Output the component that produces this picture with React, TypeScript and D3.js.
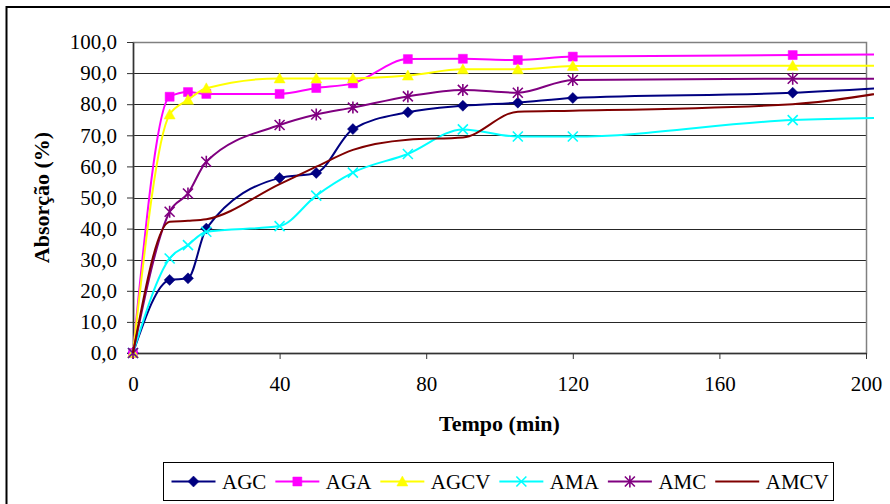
import * as d3 from "d3";
import { useRef, useEffect } from "react";

// values (Absorção % vs Tempo min)
const time = [0, 10, 15, 20, 40, 50, 60, 75, 90, 105, 120, 180, 210];
const agc = [0, 23.5, 24, 40, 56.3, 57.9, 72, 77.4, 79.5, 80.5, 82, 83.7, 85.6];
const aga = [0, 82.4, 83.9, 83.3, 83.3, 85.2, 86.7, 94.5, 94.6, 94.2, 95.3, 95.8, 96];
const agcv = [0, 76.7, 81.4, 85.1, 88.3, 88.3, 88.3, 89.2, 91.2, 91.2, 92.3, 92.4, 92.4];
const ama = [0, 30.4, 34.7, 39, 40.8, 50.6, 58, 64, 71.9, 69.6, 69.6, 74.9, 75.7];
const amc = [0, 45.4, 51.3, 61.5, 73.3, 76.7, 78.9, 82.5, 84.6, 83.7, 87.8, 88.2, 88.2];
const amcv = [0, 42.2, 42.5, 43, 54.3, 59.9, 65.3, 68.6, 69.3, 77.6, 77.9, 80, 84.8];

const seriesNames = ["AGC", "AGA", "AGCV", "AMA", "AMC", "AMCV"];
const seriesValues = [agc, aga, agcv, ama, amc, amcv];
const seriesColors = ["#000080", "#FF00FF", "#FFFF00", "#00FFFF", "#800080", "#800000"];
const seriesMarkers = ["diamond", "square", "triangle", "cross", "star", "none"];

const xTicks = [0, 40, 80, 120, 160, 200];
const yTicks = [0, 10, 20, 30, 40, 50, 60, 70, 80, 90, 100];

const markerPath = (kind: string) => {
  switch (kind) {
    case "diamond":
      return "M0,-5.5L5.5,0L0,5.5L-5.5,0Z";
    case "square":
      return "M-4.5,-4.5H4.5V4.5H-4.5Z";
    case "triangle":
      return "M0,-5.5L5.5,4.5L-5.5,4.5Z";
    case "cross":
      return "M-5,-5L5,5M-5,5L5,-5";
    case "star":
      return "M-5,-5L5,5M-5,5L5,-5M0,-6V6";
    default:
      return "";
  }
};

const App = () => {
  const container = useRef<SVGSVGElement>(null);

  useEffect(() => {
    document.body.style.margin = "0";
    createChart();
  }, []);

  const createChart = () => {
    const font = "Liberation Serif, Times New Roman, Tinos, DejaVu Serif, serif";
    const plot = { l: 133, t: 42, r: 866, b: 353 };

    const svg = d3.select(container.current);

    const xScale = d3.scaleLinear().domain([0, 200]).range([plot.l, plot.r]);
    const yScale = d3.scaleLinear().domain([0, 100]).range([plot.b, plot.t]);

    // outer chart frame (runs off right / bottom edge like the reference)
    svg
      .selectAll(".frame")
      .data([0])
      .join("rect")
      .attr("class", "frame")
      .attr("x", 6.5)
      .attr("y", 7)
      .attr("width", 1000)
      .attr("height", 1000)
      .attr("fill", "none")
      .attr("stroke", "#000")
      .attr("stroke-width", 2);

    // gridlines
    svg
      .selectAll(".grid")
      .data(yTicks.filter((v) => v > 0 && v < 100))
      .join("line")
      .attr("class", "grid")
      .attr("x1", plot.l)
      .attr("x2", plot.r)
      .attr("y1", (d) => Math.round(yScale(d)) + 0.5)
      .attr("y2", (d) => Math.round(yScale(d)) + 0.5)
      .attr("stroke", "#262626")
      .attr("stroke-width", 1);

    // plot area border
    svg
      .selectAll(".plot-border")
      .data([0])
      .join("rect")
      .attr("class", "plot-border")
      .attr("x", plot.l + 0.5)
      .attr("y", plot.t + 0.5)
      .attr("width", plot.r - plot.l)
      .attr("height", plot.b - plot.t)
      .attr("fill", "none")
      .attr("stroke", "#808080")
      .attr("stroke-width", 1.5);

    // axes
    const yaxis = d3
      .axisLeft(yScale)
      .tickValues(yTicks)
      .tickSize(6)
      .tickSizeOuter(0)
      .tickPadding(10)
      .tickFormat((d) => d3.format(".1f")(d as number).replace(".", ","));

    const yaxisg = svg
      .selectAll(".yaxis-g")
      .data([0])
      .join("g")
      .attr("class", "yaxis-g")
      .attr("transform", `translate(${plot.l},0)`)
      .call(yaxis as any);

    const xaxis = d3
      .axisBottom(xScale)
      .tickValues(xTicks)
      .tickSize(6)
      .tickSizeOuter(0)
      .tickPadding(17)
      .tickFormat(d3.format("d") as any);

    const xaxisg = svg
      .selectAll(".xaxis-g")
      .data([0])
      .join("g")
      .attr("class", "xaxis-g")
      .attr("transform", `translate(0,${plot.b})`)
      .call(xaxis as any);

    [yaxisg, xaxisg].forEach((g) => {
      g.attr("font-family", null).attr("font-size", null);
      g.selectAll(".domain").attr("stroke", "#333").attr("stroke-width", 1.5);
      g.selectAll(".tick line").attr("stroke", "#333");
      g.selectAll(".tick text")
        .attr("fill", "#000")
        .style("font-family", font)
        .style("font-size", "21px");
    });

    // axis titles
    svg
      .selectAll(".x-title")
      .data([0])
      .join("text")
      .attr("class", "x-title")
      .attr("x", (plot.l + plot.r) / 2)
      .attr("y", 431)
      .attr("text-anchor", "middle")
      .style("font-family", font)
      .style("font-size", "22px")
      .style("font-weight", "bold")
      .text("Tempo (min)");

    svg
      .selectAll(".y-title")
      .data([0])
      .join("text")
      .attr("class", "y-title")
      .attr("transform", `translate(49,${(plot.t + plot.b) / 2}) rotate(-90)`)
      .attr("text-anchor", "middle")
      .style("font-family", font)
      .style("font-size", "22px")
      .style("font-weight", "bold")
      .text("Absorção (%)");

    // clip lines a bit beyond the plot edge like Excel does
    svg
      .selectAll("defs")
      .data([0])
      .join("defs")
      .selectAll("clipPath")
      .data([0])
      .join("clipPath")
      .attr("id", "plot-clip")
      .selectAll("rect")
      .data([0])
      .join("rect")
      .attr("x", plot.l - 10)
      .attr("y", 0)
      .attr("width", plot.r + 8 - (plot.l - 10))
      .attr("height", plot.b + 10);

    const series = seriesNames.map((name, i) => ({
      name,
      color: seriesColors[i],
      marker: seriesMarkers[i],
      points: time.map((t, j) => ({ t, v: seriesValues[i][j] })),
    }));

    const line = d3
      .line<{ t: number; v: number }>()
      .x((d) => xScale(d.t))
      .y((d) => yScale(d.v))
      .curve(d3.curveMonotoneX);

    const plot_g = svg
      .selectAll(".plot-g")
      .data([0])
      .join("g")
      .attr("class", "plot-g")
      .attr("clip-path", "url(#plot-clip)");

    const series_g = plot_g
      .selectAll(".series")
      .data(series)
      .join("g")
      .attr("class", "series");

    series_g
      .selectAll(".line")
      .data((d) => [d])
      .join("path")
      .attr("class", "line")
      .attr("d", (d) => line(d.points))
      .attr("fill", "none")
      .attr("stroke", (d) => d.color)
      .attr("stroke-width", 2);

    series_g
      .selectAll(".marker")
      .data((d) =>
        d.marker === "none" ? [] : d.points.map((p) => ({ ...p, color: d.color, marker: d.marker }))
      )
      .join("path")
      .attr("class", "marker")
      .attr("transform", (d) => `translate(${xScale(d.t)},${yScale(d.v)})`)
      .attr("d", (d) => markerPath(d.marker))
      .attr("fill", (d) => (d.marker === "cross" || d.marker === "star" ? "none" : d.color))
      .attr("stroke", (d) => d.color)
      .attr("stroke-width", (d) => (d.marker === "cross" || d.marker === "star" ? 1.6 : 0.5));

    // legend
    const legend = { x: 163.5, y: 462.5, w: 670, h: 38 };
    svg
      .selectAll(".legend-box")
      .data([0])
      .join("rect")
      .attr("class", "legend-box")
      .attr("x", legend.x)
      .attr("y", legend.y)
      .attr("width", legend.w)
      .attr("height", legend.h)
      .attr("fill", "#fff")
      .attr("stroke", "#000")
      .attr("stroke-width", 1);

    const legend_g = svg.selectAll(".legend-g").data([0]).join("g").attr("class", "legend-g");
    const cy = legend.y + legend.h / 2;
    let cursor = 171.5;
    series.forEach((s, i) => {
      const item = legend_g
        .selectAll(`.legend-item-${i}`)
        .data([s])
        .join("g")
        .attr("class", `legend-item-${i}`);
      item
        .selectAll("line")
        .data([s])
        .join("line")
        .attr("x1", cursor)
        .attr("x2", cursor + 44)
        .attr("y1", cy)
        .attr("y2", cy)
        .attr("stroke", s.color)
        .attr("stroke-width", 2);
      item
        .selectAll(".legend-marker")
        .data(s.marker === "none" ? [] : [s])
        .join("path")
        .attr("class", "legend-marker")
        .attr("transform", `translate(${cursor + 22},${cy})`)
        .attr("d", markerPath(s.marker))
        .attr("fill", s.marker === "cross" || s.marker === "star" ? "none" : s.color)
        .attr("stroke", s.color)
        .attr("stroke-width", s.marker === "cross" || s.marker === "star" ? 1.6 : 0.5);
      const txt = item
        .selectAll("text")
        .data([s])
        .join("text")
        .attr("x", cursor + 50.5)
        .attr("y", cy + 7.5)
        .style("font-family", font)
        .style("font-size", "21px")
        .attr("fill", "#000")
        .text(s.name);
      const tw = (txt.node() as SVGTextElement).getComputedTextLength();
      cursor = cursor + 50.5 + tw + 9;
    });

    return;
  };

  return (
    <svg ref={container} width={890} height={504} style={{ display: "block", background: "#fff" }}></svg>
  );
};

export default App;
